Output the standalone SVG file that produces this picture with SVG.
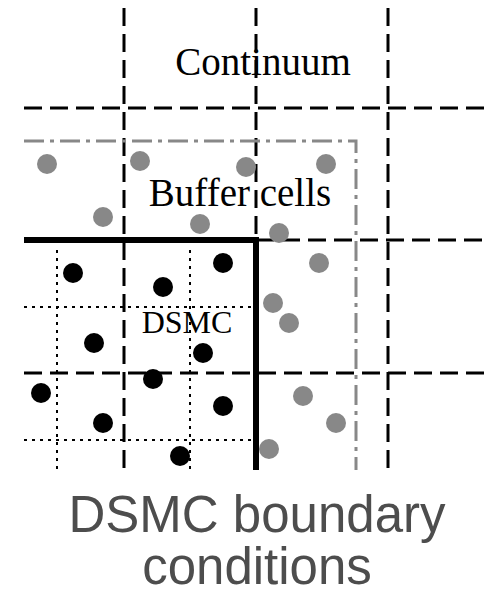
<svg xmlns="http://www.w3.org/2000/svg" width="488" height="596" viewBox="0 0 488 596">
  <style>
    .grid { stroke: #000; stroke-width: 3; stroke-dasharray: 18 8; fill: none; }
    .fine { stroke: #000; stroke-width: 2; stroke-dasharray: 3 5; fill: none; }
    .buffer { stroke: #888; stroke-width: 3; stroke-dasharray: 20 6 4 6; fill: none; }
    .edge { stroke: #000; stroke-width: 6; fill: none; }
    .gas { fill: #000; }
    .ghost { fill: #888; }
    .lbl { font-family: "Liberation Serif", "Times New Roman", serif; fill: #000; text-anchor: middle; }
    .cap { font-family: "Liberation Sans", Arial, sans-serif; fill: #4d4d4d; text-anchor: middle; font-size: 51px; }
  </style>

  <!-- continuum grid -->
  <g id="continuum-grid">
    <path class="grid" d="M124 8V470 M256 8V470 M388 8V470"/>
    <path class="grid" d="M24 108H488 M256 240H488 M24 373H488"/>
  </g>

  <!-- fine DSMC sub-cells -->
  <g id="dsmc-cells">
    <path class="fine" d="M57 250V470 M190 250V470 M24 307H252 M24 440H252"/>
  </g>

  <!-- buffer cell boundary -->
  <g id="buffer-boundary">
    <path class="buffer" d="M24 141H356V470"/>
  </g>

  <!-- DSMC domain boundary -->
  <g id="dsmc-boundary">
    <path class="edge" d="M24 240H256V470"/>
  </g>

  <!-- buffer particles -->
  <g id="buffer-particles">
    <circle class="ghost" cx="47" cy="164" r="10"/>
    <circle class="ghost" cx="140" cy="161" r="10"/>
    <circle class="ghost" cx="246" cy="167" r="10"/>
    <circle class="ghost" cx="326" cy="164" r="10"/>
    <circle class="ghost" cx="103" cy="217" r="10"/>
    <circle class="ghost" cx="200" cy="224" r="10"/>
    <circle class="ghost" cx="279" cy="233" r="10"/>
    <circle class="ghost" cx="319" cy="263" r="10"/>
    <circle class="ghost" cx="273" cy="303" r="10"/>
    <circle class="ghost" cx="289" cy="323" r="10"/>
    <circle class="ghost" cx="303" cy="396" r="10"/>
    <circle class="ghost" cx="336" cy="423" r="10"/>
    <circle class="ghost" cx="269" cy="449" r="10"/>
  </g>

  <!-- DSMC particles -->
  <g id="dsmc-particles">
    <circle class="gas" cx="73" cy="273" r="10"/>
    <circle class="gas" cx="163" cy="287" r="10"/>
    <circle class="gas" cx="223" cy="263" r="10"/>
    <circle class="gas" cx="94" cy="343" r="10"/>
    <circle class="gas" cx="203" cy="353" r="10"/>
    <circle class="gas" cx="153" cy="379" r="10"/>
    <circle class="gas" cx="41" cy="393" r="10"/>
    <circle class="gas" cx="223" cy="406" r="10"/>
    <circle class="gas" cx="103" cy="423" r="10"/>
    <circle class="gas" cx="180" cy="456" r="10"/>
  </g>

  <!-- region labels -->
  <g id="labels">
    <text class="lbl" x="263" y="75" font-size="39">Continuum</text>
    <text class="lbl" x="240" y="206" font-size="39">Buffer cells</text>
    <text class="lbl" x="187" y="333" font-size="32">DSMC</text>
  </g>

  <g id="caption">
    <text class="cap" x="257" y="532">DSMC boundary</text>
    <text class="cap" x="257" y="584">conditions</text>
  </g>
</svg>
